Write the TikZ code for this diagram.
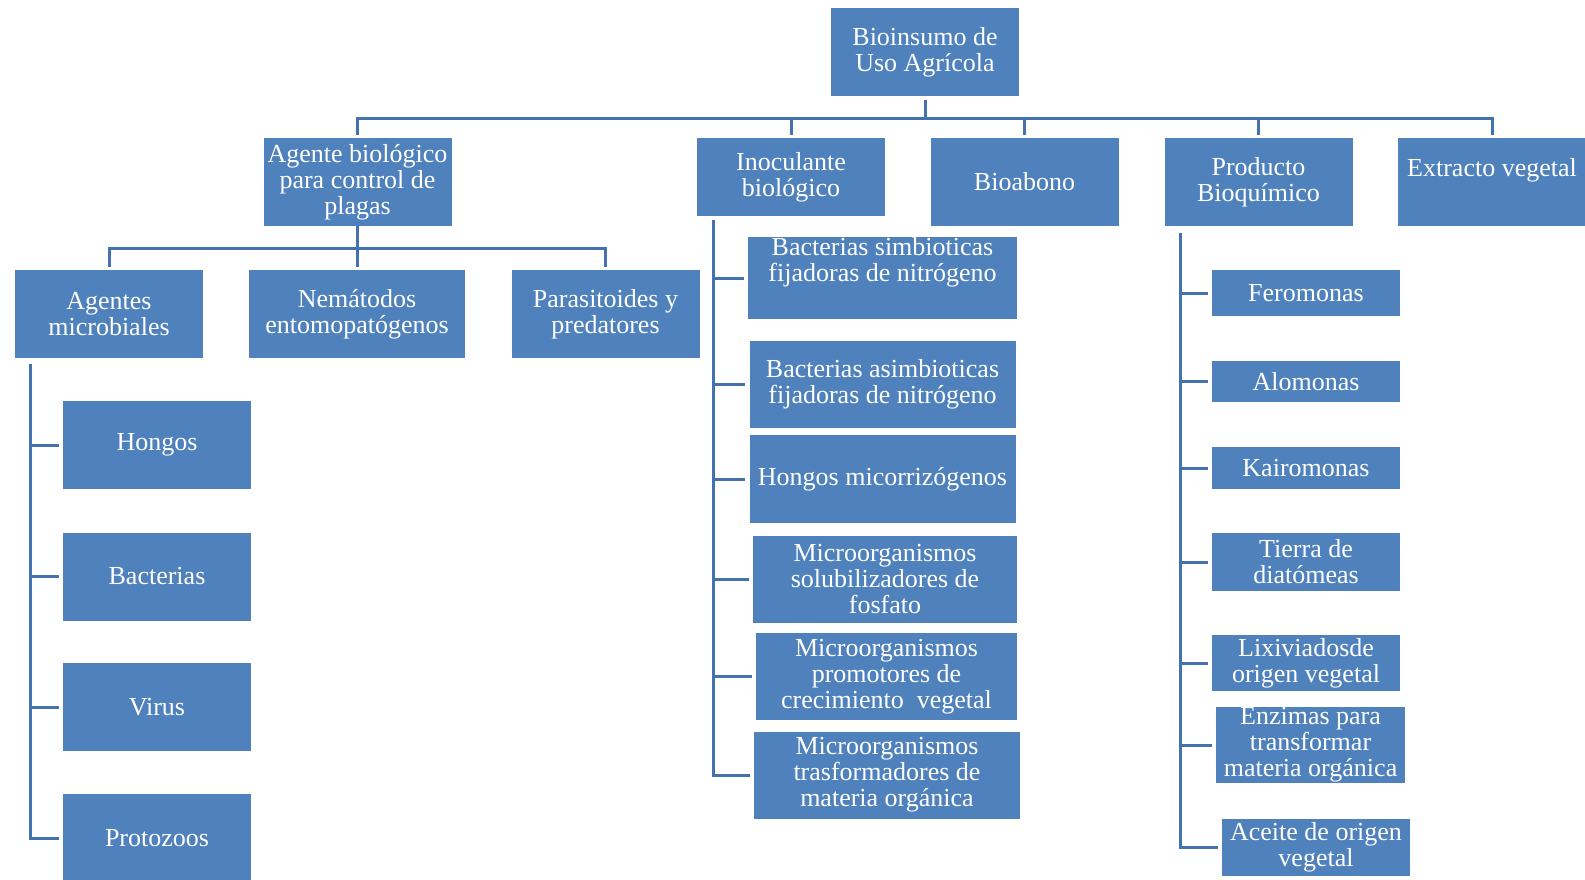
\documentclass[tikz,border=0pt]{standalone}
\usepackage{fontspec}
\setmainfont{Liberation Serif}
\usepackage{tikz}
\usetikzlibrary{positioning,calc}
\definecolor{bioB}{RGB}{79,129,189}
\definecolor{lineB}{RGB}{66,114,176}

\begin{document}
\begin{tikzpicture}[
  x=0.5pt, y=-0.5pt,
  box/.style={fill=bioB, text=white, align=center, font=\fontsize{13}{13}\selectfont,
    inner xsep=2pt, inner ysep=0pt, minimum width=94pt, minimum height=44pt},
  wide/.style={box, minimum width=133pt, minimum height=43.5pt},
  small/.style={box, minimum height=22pt},
  conn/.style={draw=lineB, line width=1.5pt}
]
\useasboundingbox (0,0) rectangle (1585,879);
\node[box] (root) at (925,52) {Bioinsumo de\\Uso Agrícola};
\node[box] (agente) at (357.5,182) {Agente biológico\\para control de\\plagas};
\node[box, minimum height=39pt] (inoc) at (791,177) {Inoculante\\biológico};
\node[box] (bioab) at (1024.5,182) {Bioabono};
\node[box] (prod) at (1258.5,182) {Producto\\Bioquímico};
\node[box] (extr) at (1492,182) {Extracto vegetal\\[2pt]\mbox{}};
\node[box] (micro) at (109,314) {Agentes\\microbiales};
\node[box, minimum width=108pt] (nema) at (357,314) {Nemátodos\\entomopatógenos};
\node[box] (paras) at (605.5,314) {Parasitoides y\\predatores};
\node[box] (hongos) at (157,445) {Hongos};
\node[box] (bact) at (157,576.5) {Bacterias};
\node[box] (virus) at (157,707) {Virus};
\node[box] (protoz) at (157,838) {Protozoos};
\node[wide, minimum width=134.5pt, minimum height=40pt] (bsim) at (882.5,278) {Bacterias simbioticas\\fijadoras de nitrógeno\\[6pt]\mbox{}};
\node[wide] (basim) at (882.5,384.5) {Bacterias asimbioticas\\fijadoras de nitrógeno};
\node[wide, minimum height=44pt] (hmic) at (882.5,479) {Hongos micorrizógenos};
\node[wide, minimum width=132pt] (msol) at (885,579) {Microorganismos\\solubilizadores de\\fosfato};
\node[wide, minimum width=130.5pt] (mprom) at (886.5,676.5) {Microorganismos\\promotores de\\crecimiento~ vegetal};
\node[wide] (mtras) at (887,775) {Microorganismos\\trasformadores de\\materia orgánica};
\node[small, minimum height=23pt] (fero) at (1306,293) {Feromonas};
\node[small, minimum height=20.5pt] (alom) at (1306,381.5) {Alomonas};
\node[small, minimum height=21pt] (kair) at (1306,468) {Kairomonas};
\node[small, minimum height=29pt] (tierra) at (1306,562) {Tierra de\\diatómeas};
\node[small, minimum height=28pt] (lixi) at (1306,663) {Lixiviadosde\\origen vegetal};
\node[small, minimum width=94.5pt, minimum height=38pt] (enz) at (1310.5,745) {Enzimas para\\transformar\\materia orgánica};
\node[small, minimum height=28.5pt] (aceite) at (1316,847.5) {Aceite de origen\\vegetal};

\coordinate (bus1) at (root.south |- 0,118);
\draw[conn, shorten <=2pt] (root) -- (bus1);
\foreach \n in {agente,inoc,bioab,prod,extr}
  \draw[conn, shorten >=1.5pt] (bus1) -| (\n);
\coordinate (bus2) at (agente.south |- 0,248);
\draw[conn] (agente) -- (bus2);
\foreach \n in {micro,nema,paras}
  \draw[conn, shorten >=1.5pt] (bus2) -| (\n);
\foreach \n in {hongos,bact,virus,protoz}
  \draw[conn, shorten >=2pt] ([xshift=8pt,yshift=-3pt]micro.south west) |- (\n);
\foreach \n in {bsim,basim,hmic,msol,mprom,mtras}
  \draw[conn, shorten >=2pt] ([xshift=8.5pt,yshift=-2pt]inoc.south west) |- (\n);
\foreach \n in {fero,alom,kair,tierra,lixi,enz,aceite}
  \draw[conn, shorten >=2pt] ([xshift=8pt,yshift=-3.5pt]prod.south west) |- (\n);
\end{tikzpicture}
\end{document}
